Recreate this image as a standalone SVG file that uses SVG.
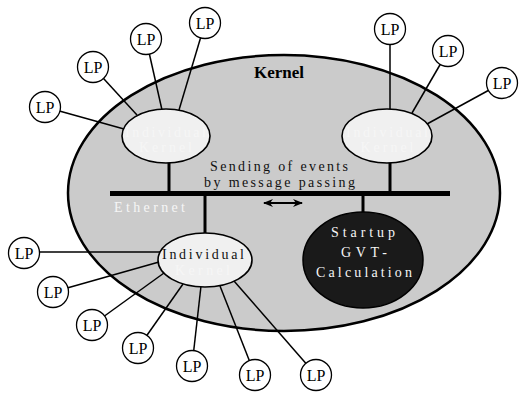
<svg xmlns="http://www.w3.org/2000/svg" width="519" height="398" viewBox="0 0 519 398">
  <defs>
    <style>
      .lp circle { fill: #ffffff; stroke: #000000; stroke-width: 1.3; }
      .lp text { font-family: "Liberation Serif", "DejaVu Serif", "Times New Roman", serif; font-size: 16px; fill: #000000; text-anchor: middle; }
      .link { stroke: #000000; stroke-width: 1.5; fill: none; }
      .ik { fill: #f0f0f0; stroke: #000000; stroke-width: 1.6; }
      .lbl { font-family: "Liberation Serif", "DejaVu Serif", "Times New Roman", serif; font-size: 14px; text-anchor: middle; }
      .title { font-family: "Liberation Serif", "DejaVu Serif", "Times New Roman", serif; font-size: 17px; font-weight: bold; text-anchor: middle; fill: #000000; }
      .white { fill: #f6f6f6; }
      .black { fill: #111111; }
      .bus { stroke: #000000; stroke-width: 5; }
      .drop { stroke: #000000; stroke-width: 3; }
    </style>
    <marker id="head" viewBox="0 0 10 8" refX="9" refY="4" markerWidth="10" markerHeight="8" markerUnits="userSpaceOnUse" orient="auto-start-reverse">
      <path d="M0,0 L10,4 L0,8 L3,4 Z" fill="#000000"/>
    </marker>
  </defs>

  <rect width="519" height="398" fill="#ffffff"/>

  <!-- outer kernel region -->
  <g id="kernel">
    <ellipse cx="284" cy="193" rx="216" ry="138" fill="#cbcbcb" stroke="#000000" stroke-width="2.5"/>
    <text class="title" x="279" y="78">Kernel</text>
  </g>

  <!-- connectors: LP links, ethernet bus and drops -->
  <g id="connectors">
    <line class="link" x1="45" y1="107" x2="124" y2="129"/>
    <line class="link" x1="93" y1="67" x2="137" y2="115"/>
    <line class="link" x1="146" y1="39" x2="162" y2="110"/>
    <line class="link" x1="205" y1="23" x2="179" y2="110"/>

    <line class="link" x1="390" y1="29" x2="390" y2="110"/>
    <line class="link" x1="448" y1="51" x2="412" y2="113"/>
    <line class="link" x1="502" y1="83" x2="427" y2="124"/>

    <line class="link" x1="24" y1="252" x2="161" y2="252"/>
    <line class="link" x1="53" y1="292" x2="159" y2="262"/>
    <line class="link" x1="92" y1="325" x2="164" y2="273"/>
    <line class="link" x1="138" y1="348" x2="183" y2="284"/>
    <line class="link" x1="192" y1="366" x2="201" y2="286"/>
    <line class="link" x1="255" y1="375" x2="220" y2="286"/>
    <line class="link" x1="316" y1="375" x2="234" y2="281"/>

    <line class="bus" x1="110" y1="193.5" x2="450" y2="193.5"/>
    <line class="drop" x1="169" y1="162" x2="169" y2="192"/>
    <line class="drop" x1="390" y1="162" x2="390" y2="192"/>
    <line class="drop" x1="205" y1="195" x2="205" y2="234"/>
    <line class="drop" x1="363" y1="195" x2="363" y2="213"/>

    <line x1="264" y1="203" x2="302" y2="203" stroke="#000000" stroke-width="1.8" marker-start="url(#head)" marker-end="url(#head)"/>
  </g>

  <g id="bus-labels">
    <text class="lbl black" x="279" y="171" textLength="138" lengthAdjust="spacing">Sending of events</text>
    <text class="lbl black" x="279.5" y="187" textLength="151" lengthAdjust="spacing">by message passing</text>
    <text class="lbl white" x="149.5" y="212" textLength="71" lengthAdjust="spacing">Ethernet</text>
  </g>

  <!-- individual kernels -->
  <g id="kernel-top-left">
    <ellipse class="ik" cx="166" cy="136" rx="44" ry="27"/>
    <text class="lbl white" x="165.5" y="137" textLength="81" lengthAdjust="spacing">Individual</text>
    <text class="lbl white" x="165.5" y="152" textLength="53" lengthAdjust="spacing">Kernel</text>
  </g>
  <g id="kernel-top-right">
    <ellipse class="ik" cx="387" cy="136" rx="45" ry="27"/>
    <text class="lbl white" x="387" y="137" textLength="82" lengthAdjust="spacing">Individual</text>
    <text class="lbl white" x="387" y="152" textLength="53" lengthAdjust="spacing">Kernel</text>
  </g>
  <g id="kernel-bottom">
    <ellipse class="ik" cx="205" cy="260" rx="47" ry="27"/>
    <text class="lbl black" x="203" y="259" textLength="82" lengthAdjust="spacing">Individual</text>
    <text class="lbl white" x="202.5" y="275" textLength="55" lengthAdjust="spacing">Kernel</text>
  </g>

  <!-- GVT startup -->
  <g id="gvt">
    <ellipse cx="363" cy="260" rx="60" ry="48" fill="#1a1a1a" stroke="#000000" stroke-width="1.5"/>
    <text class="lbl white" x="363" y="237" textLength="64" lengthAdjust="spacing">Startup</text>
    <text class="lbl white" x="364" y="257" textLength="46" lengthAdjust="spacing">GVT-</text>
    <text class="lbl white" x="364" y="277" textLength="96" lengthAdjust="spacing">Calculation</text>
  </g>

  <!-- logical processes -->
  <g id="lp-1" class="lp"><circle cx="45" cy="107" r="15.5"/><text x="45" y="112.5">LP</text></g>
  <g id="lp-2" class="lp"><circle cx="93" cy="67" r="15.5"/><text x="93" y="72.5">LP</text></g>
  <g id="lp-3" class="lp"><circle cx="146" cy="39" r="15.5"/><text x="146" y="44.5">LP</text></g>
  <g id="lp-4" class="lp"><circle cx="205" cy="23" r="15.5"/><text x="205" y="28.5">LP</text></g>
  <g id="lp-5" class="lp"><circle cx="390" cy="29" r="15.5"/><text x="390" y="34.5">LP</text></g>
  <g id="lp-6" class="lp"><circle cx="448" cy="51" r="15.5"/><text x="448" y="56.5">LP</text></g>
  <g id="lp-7" class="lp"><circle cx="502" cy="83" r="15.5"/><text x="502" y="88.5">LP</text></g>
  <g id="lp-8" class="lp"><circle cx="24" cy="253" r="15.5"/><text x="24" y="258.5">LP</text></g>
  <g id="lp-9" class="lp"><circle cx="53" cy="292" r="15.5"/><text x="53" y="297.5">LP</text></g>
  <g id="lp-10" class="lp"><circle cx="92" cy="325" r="15.5"/><text x="92" y="330.5">LP</text></g>
  <g id="lp-11" class="lp"><circle cx="138" cy="348" r="15.5"/><text x="138" y="353.5">LP</text></g>
  <g id="lp-12" class="lp"><circle cx="192" cy="366" r="15.5"/><text x="192" y="371.5">LP</text></g>
  <g id="lp-13" class="lp"><circle cx="255" cy="375" r="15.5"/><text x="255" y="380.5">LP</text></g>
  <g id="lp-14" class="lp"><circle cx="316" cy="375" r="15.5"/><text x="316" y="380.5">LP</text></g>
</svg>
